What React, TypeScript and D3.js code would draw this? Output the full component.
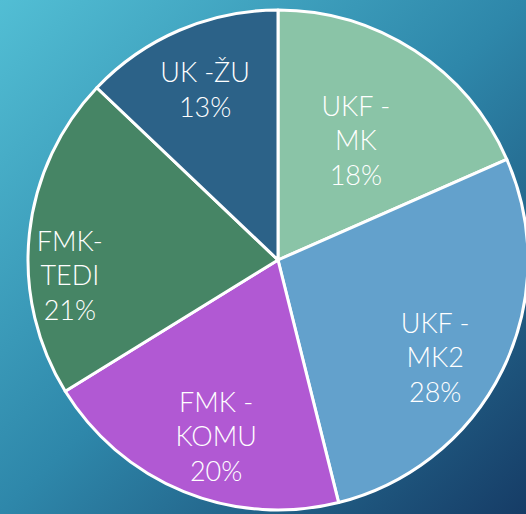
import React from "react";
import * as d3 from "d3";

const categories = ["UKF - MK", "UKF - MK2", "FMK - KOMU", "FMK-TEDI", "UK -ŽU"];
const labelLines = [["UKF -", "MK"], ["UKF -", "MK2"], ["FMK -", "KOMU"], ["FMK-", "TEDI"], ["UK -ŽU"]];
const values = [18.4, 27.7, 20.1, 20.9, 12.9];
const colors = ["#8ac4a7", "#63a1cc", "#b159d3", "#468565", "#2c6288"];
const labelRadiusFactor = [0.57, 0.74, 0.75, 0.835, 0.74];
const labelAngleShift = [0, 0.1, -0.05, -0.18, 0];

const W = 526;
const H = 514;
const cx = 278;
const cy = 260;
const R = 250;

export default function App() {
  const total = d3.sum(values);
  const pie = d3.pie<number>().sort(null).value((d) => d)(values);
  const arc = d3.arc<d3.PieArcDatum<number>>().innerRadius(0).outerRadius(R);
  const lineH = 34.5;

  return (
    <svg
      width={W}
      height={H}
      style={{ position: "absolute", left: 0, top: 0, display: "block" }}
    >
      <defs>
        <linearGradient id="bg" x1="0" y1="0" x2="1" y2="1">
          <stop offset="0%" stopColor="#52bed4" />
          <stop offset="50%" stopColor="#2e87aa" />
          <stop offset="100%" stopColor="#163c66" />
        </linearGradient>
      </defs>
      <rect x={0} y={0} width={W} height={H} fill="url(#bg)" />
      <g transform={`translate(${cx},${cy})`}>
        {pie.map((p, i) => (
          <path key={categories[i]} d={arc(p) || ""} fill={colors[i]} stroke="#ffffff" strokeWidth={3} strokeLinejoin="round" />
        ))}
        {pie.map((p, i) => {
          const mid = (p.startAngle + p.endAngle) / 2 + labelAngleShift[i];
          const r = R * labelRadiusFactor[i];
          const x = Math.sin(mid) * r;
          const y = -Math.cos(mid) * r;
          const lines = [...labelLines[i], `${Math.round((values[i] / total) * 100)}%`];
          const y0 = y - ((lines.length - 1) * lineH) / 2;
          return (
            <text
              key={"t" + i}
              x={x}
              textAnchor="middle"
              fill="#ffffff"
              fontFamily="Lato, 'Open Sans', sans-serif"
              fontWeight={300}
              fontSize={27}
            >
              {lines.map((ln, j) => (
                <tspan key={j} x={x} y={y0 + j * lineH} dy="0.35em">
                  {ln}
                </tspan>
              ))}
            </text>
          );
        })}
      </g>
    </svg>
  );
}
